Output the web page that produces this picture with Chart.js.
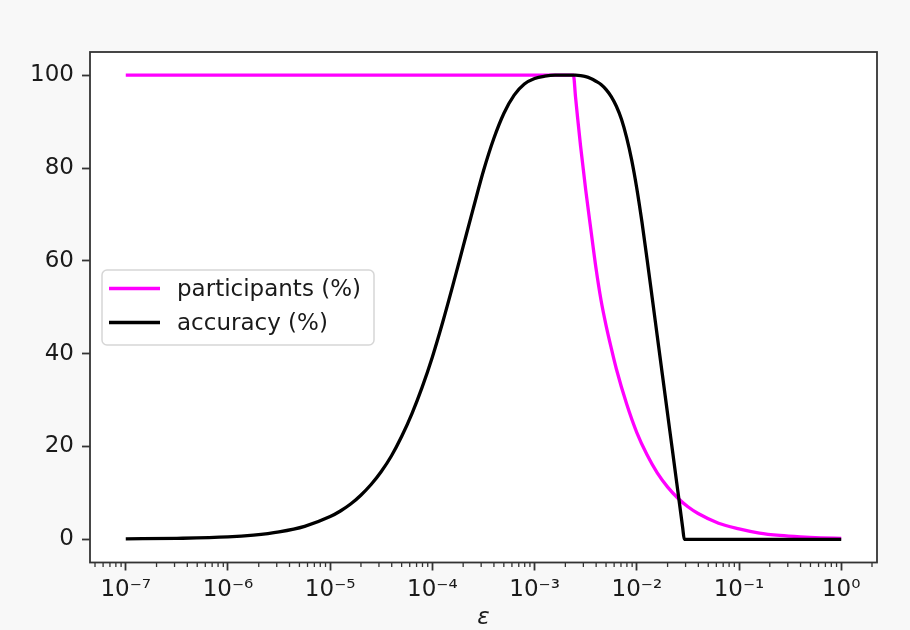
<!DOCTYPE html>
<html><head><meta charset="utf-8">
<script src="https://cdn.jsdelivr.net/npm/chart.js@4.4.0/dist/chart.umd.min.js"></script>
<style>html,body{margin:0;padding:0;background:#f8f8f8;}canvas{display:block;}</style>
</head><body>
<canvas id="c" width="910" height="630"></canvas>
<script>
// ---- data (epsilon, percent) ----
const participantsEps = [1e-7, 1e-5, 1e-3, 2.399e-3, 2.512e-3, 2.630e-3, 2.818e-3, 3.162e-3, 3.548e-3, 3.981e-3, 4.467e-3, 5.012e-3, 5.623e-3, 6.310e-3, 7.943e-3, 1e-2, 1.259e-2, 1.585e-2, 1.995e-2, 2.512e-2, 3.162e-2, 3.981e-2, 6.310e-2, 0.1, 0.1585, 0.2512, 0.3981, 0.6310, 1];
const participantsPct = [100, 100, 100, 100, 95.4, 91.0, 84.7, 75.3, 66.8, 58.5, 51.5, 46.0, 41.2, 36.7, 29.2, 23.0, 18.2, 14.3, 11.3, 8.9, 7.0, 5.55, 3.46, 2.25, 1.34, 0.83, 0.52, 0.32, 0.2];

const accuracyEps = [1e-7, 3.162e-7, 1e-6, 1.778e-6, 3.162e-6, 5.623e-6, 1e-5, 1.259e-5, 1.585e-5, 1.995e-5, 2.512e-5, 3.162e-5, 3.981e-5, 5.012e-5, 6.310e-5, 7.943e-5, 1e-4, 1.259e-4, 1.585e-4, 1.995e-4, 2.512e-4, 3.162e-4, 3.981e-4, 5.012e-4, 6.310e-4, 7.943e-4, 1e-3, 1.259e-3, 1.585e-3, 2.512e-3, 2.818e-3, 3.162e-3, 3.548e-3, 3.981e-3, 4.467e-3, 5.012e-3, 5.623e-3, 6.310e-3, 7.079e-3, 7.943e-3, 8.913e-3, 1e-2, 1.122e-2, 1.259e-2, 1.413e-2, 1.585e-2, 1.778e-2, 1.995e-2, 2.239e-2, 2.512e-2, 2.818e-2, 2.911e-2, 0.1, 1];
const accuracyPct = [0.1, 0.2, 0.5, 0.9, 1.6, 2.8, 4.9, 6.1, 7.6, 9.5, 11.8, 14.6, 18.0, 22.2, 27.1, 32.8, 39.3, 46.7, 54.7, 63.0, 71.3, 79.4, 86.3, 91.8, 95.7, 98.1, 99.3, 99.8, 100, 100, 99.9, 99.7, 99.3, 98.7, 98.0, 96.9, 95.4, 93.3, 90.5, 86.6, 81.7, 75.6, 68.4, 60.4, 52.1, 43.8, 35.5, 27.2, 18.9, 10.6, 2.3, 0, 0, 0];

const seriesNames = ['participants (%)', 'accuracy (%)'];
const seriesColors = ['#ff00ff', '#000000'];
const xTickValues = [1e-7, 1e-6, 1e-5, 1e-4, 1e-3, 1e-2, 1e-1, 1];
const xTickLabels = ['10⁻⁷', '10⁻⁶', '10⁻⁵', '10⁻⁴', '10⁻³', '10⁻²', '10⁻¹', '10⁰'];
const yTickValues = [0, 20, 40, 60, 80, 100];
const xTitle = 'ε';

const FONT = "'DejaVu Sans', sans-serif";
const FSIZE = 23;
const minorTicks = [];
for (let k = -8; k <= 0; k++) for (let m = 2; m <= 9; m++) minorTicks.push(m * Math.pow(10, k));

const framePlugin = {
  id: 'frame',
  beforeDraw(chart) {
    const {ctx, chartArea: a} = chart;
    ctx.save();
    ctx.fillStyle = '#f8f8f8';
    ctx.fillRect(0, 0, chart.width, chart.height);
    ctx.fillStyle = '#ffffff';
    ctx.fillRect(a.left, a.top, a.right - a.left, a.bottom - a.top);
    ctx.restore();
  },
  afterDraw(chart) {
    const {ctx, chartArea: a} = chart;
    const xs = chart.scales.x;
    ctx.save();
    // minor ticks
    ctx.strokeStyle = '#333';
    ctx.lineWidth = 1.3;
    for (const v of minorTicks) {
      if (v < xs.min || v > xs.max) continue;
      const px = xs.getPixelForValue(v);
      ctx.beginPath();
      ctx.moveTo(px, a.bottom);
      ctx.lineTo(px, a.bottom + 4.5);
      ctx.stroke();
    }
    // frame
    ctx.lineWidth = 1.8;
    ctx.strokeRect(a.left, a.top, a.right - a.left, a.bottom - a.top);
    // legend
    const lx = 102, ly = 270, lw = 272, lh = 75, r = 5;
    ctx.beginPath();
    ctx.moveTo(lx + r, ly);
    ctx.arcTo(lx + lw, ly, lx + lw, ly + lh, r);
    ctx.arcTo(lx + lw, ly + lh, lx, ly + lh, r);
    ctx.arcTo(lx, ly + lh, lx, ly, r);
    ctx.arcTo(lx, ly, lx + lw, ly, r);
    ctx.closePath();
    ctx.fillStyle = 'rgba(255,255,255,0.8)';
    ctx.fill();
    ctx.strokeStyle = '#d6d6d6';
    ctx.lineWidth = 1.5;
    ctx.stroke();
    ctx.font = FSIZE + 'px ' + FONT;
    ctx.textBaseline = 'alphabetic';
    ctx.textAlign = 'left';
    seriesNames.forEach((name, i) => {
      const y = 288.5 + i * 34;
      ctx.strokeStyle = seriesColors[i];
      ctx.lineWidth = 3.3;
      ctx.beginPath();
      ctx.moveTo(109, y);
      ctx.lineTo(160, y);
      ctx.stroke();
      ctx.fillStyle = '#1a1a1a';
      ctx.fillText(name, 177, y + 7.5);
    });
    ctx.restore();
  }
};

const mk = (xs, ys) => xs.map((x, i) => ({x: x, y: ys[i]}));

new Chart(document.getElementById('c'), {
  type: 'line',
  data: {
    datasets: [
      {label: seriesNames[0], data: mk(participantsEps, participantsPct), borderColor: seriesColors[0], borderWidth: 3.3, pointRadius: 0, cubicInterpolationMode: 'monotone', fill: false, order: 1},
      {label: seriesNames[1], data: mk(accuracyEps, accuracyPct), borderColor: seriesColors[1], borderWidth: 3.3, pointRadius: 0, cubicInterpolationMode: 'monotone', fill: false, order: 0}
    ]
  },
  options: {
    responsive: false,
    animation: false,
    devicePixelRatio: 1,
    layout: {padding: {left: 0, right: 33, top: 52, bottom: 0}},
    plugins: {legend: {display: false}, tooltip: {enabled: false}},
    scales: {
      x: {
        type: 'logarithmic',
        min: Math.pow(10, -7.35), max: Math.pow(10, 0.35), bounds: 'data',
        afterBuildTicks: s => { s.ticks = xTickValues.map(v => ({value: v, major: true})); },
        afterFit: s => { s.height = 67.5; },
        grid: {drawOnChartArea: false, drawTicks: true, tickLength: 8, tickColor: '#333', tickWidth: 1.8},
        border: {display: false},
        ticks: {
          autoSkip: false, maxRotation: 0, minRotation: 0, padding: 6, color: '#1a1a1a',
          font: {family: FONT, size: FSIZE},
          callback: v => { const i = xTickValues.findIndex(t => Math.abs(t - v) / t < 1e-6); return i >= 0 ? xTickLabels[i] : ''; }
        },
        title: {display: true, text: xTitle, color: '#1a1a1a', font: {family: FONT, size: FSIZE, style: 'italic', lineHeight: 1.0}, padding: {top: 0, bottom: 0}}
      },
      y: {
        min: -5, max: 105,
        afterBuildTicks: s => { s.ticks = yTickValues.map(v => ({value: v})); },
        afterFit: s => { s.width = 90; },
        grid: {drawOnChartArea: false, drawTicks: true, tickLength: 8, tickColor: '#333', tickWidth: 1.8},
        border: {display: false},
        ticks: {padding: 8, color: '#1a1a1a', font: {family: FONT, size: FSIZE}}
      }
    }
  },
  plugins: [framePlugin]
});
</script>
</body></html>
